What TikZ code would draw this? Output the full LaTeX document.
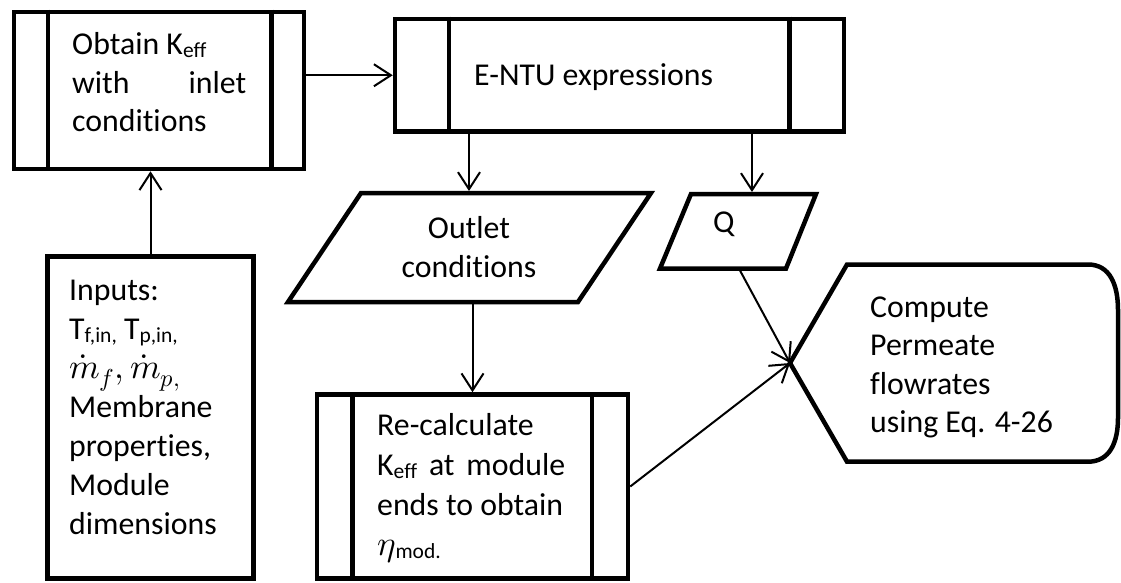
\documentclass[tikz,border=0pt]{standalone}
\usepackage{fontspec}
\usepackage{unicode-math}
\setmainfont{Carlito}[Ligatures={NoCommon,NoContextual}]
\setmathfont{Latin Modern Math}
\usetikzlibrary{arrows.meta}

% small lowered subscript in text font
\newcommand\sbx[1]{\raisebox{-3pt}{\fontsize{21.5}{21.5}\selectfont #1}}
% larger math for the flow-rate symbols
\newcommand\bigmath[1]{{\fontsize{35}{39}\selectfont$#1$}}

\begin{document}
\begin{tikzpicture}[x=1pt,y=-1pt,
  frame/.style={draw, line width=4.5pt, rectangle, inner sep=0pt},
  shp/.style={draw, line width=4.5pt, line join=miter},
  bar/.style={line width=4.5pt},
  arr/.style={line width=2pt, -{Straight Barb[length=17pt,width=22pt]}},
  txt/.style={anchor=base west, inner sep=0pt, font=\fontsize{31.8}{38.5}\selectfont}]

\fill[white] (0,0) rectangle (1121,583);
\useasboundingbox (0,0) rectangle (1121,583);

% predefined-process boxes
\node[frame, minimum width=290pt, minimum height=157pt] (b1) at (159,90.5) {};
\draw[bar] ([xshift=36pt]b1.north west) -- ([xshift=36pt]b1.south west);
\draw[bar] ([xshift=-35pt]b1.north east) -- ([xshift=-35pt]b1.south east);

\node[frame, minimum width=449pt, minimum height=112.5pt] (b2) at (619.5,75.25) {};
\draw[bar] ([xshift=56pt]b2.north west) -- ([xshift=56pt]b2.south west);
\draw[bar] ([xshift=-57pt]b2.north east) -- ([xshift=-57pt]b2.south east);

\node[frame, minimum width=311pt, minimum height=184pt] (rc) at (472.5,486.5) {};
\draw[bar] ([xshift=37.5pt]rc.north west) -- ([xshift=37.5pt]rc.south west);
\draw[bar] ([xshift=-38.5pt]rc.north east) -- ([xshift=-38.5pt]rc.south east);

% input box
\node[frame, minimum width=206pt, minimum height=322pt] (inp) at (150.5,417.5) {};

% data (parallelogram) shapes
\draw[shp] (361,193) -- (651,193) -- (578,302) -- (288,302) -- cycle;
\coordinate (otop) at (469,191);
\coordinate (obot) at (472.5,304);

\draw[shp] (691,194) -- (816,194) -- (786,268.5) -- (660,268.5) -- cycle;
\coordinate (qtop) at (752,192);
\coordinate (qbot) at (740,270.5);

% display shape
\coordinate (cp) at (790,363);
\draw[shp] (cp) -- (847,264.5) -- (1088,264.5)
  .. controls (1110,264.5) and (1118,285) .. (1118,310) -- (1118,418)
  .. controls (1118,442) and (1110,461.7) .. (1088,461.7) -- (847,461.7) -- cycle;

% texts
\node[txt] (t1) at (72,55) {\parbox[t]{174pt}{Obtain K\sbx{eff}\\ with\hfill inlet\\ conditions}};
\node[txt] (t2) at (474,86) {E-NTU expressions};
\node[txt] (t3) at (69,300) {\parbox[t]{185pt}{\setlength\baselineskip{39pt}Inputs:\\ T\sbx{f,in,} T\sbx{p,in,}\\ \bigmath{\dot{m}_f, \dot{m}_{p,}}\\ Membrane\\ properties,\\ Module\\ dimensions}};
\node[txt] (t4) at (377,435) {\parbox[t]{188pt}{\setlength\baselineskip{40pt}Re-calculate\\ K\sbx{eff}\hfill at\hfill module\\ ends to obtain\\ \bigmath{\eta}\sbx{mod.}}};
\node[txt, anchor=base] (t5) at (469,238) {\parbox[t]{260pt}{\centering\setlength\baselineskip{39pt}Outlet\\ conditions}};
\node[txt] (t6) at (713,232) {Q};
\node[txt] (t7) at (870,317) {\parbox[t]{240pt}{Compute\\ Permeate\\ flowrates\\ using Eq. 4-26}};

% connectors
\draw[arr] (inp.north) -- (inp.north |- b1.south);
\draw[arr] (b1.east |- b2.west) -- (b2.west);
\draw[arr] (b2.south -| otop) -- (otop);
\draw[arr] (b2.south -| qtop) -- (qtop);
\draw[arr] (rc.north |- obot) -- (rc.north);
\draw[arr] (qbot) -- (cp);
\draw[arr] (rc.east) -- (cp);
\end{tikzpicture}
\end{document}
